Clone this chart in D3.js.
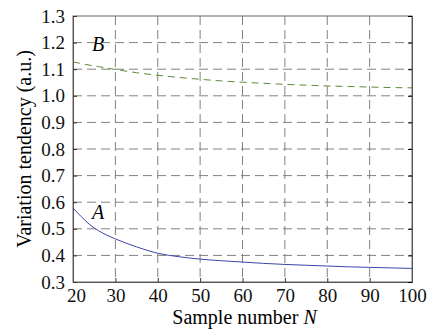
<!DOCTYPE html>
<html><head><meta charset="utf-8">
<script src="https://cdn.jsdelivr.net/npm/d3@7"></script>
<style>body{margin:0;background:#fff}svg{display:block}</style>
</head><body>
<script>
const xTicks = [20,30,40,50,60,70,80,90,100];
const yTicks = [0.3,0.4,0.5,0.6,0.7,0.8,0.9,1.0,1.1,1.2,1.3];
const sampleN = [20,22,24,26,28,30,35,40,45,50,55,60,65,70,75,80,85,90,95,100];
const seriesA = [0.578,0.545,0.515,0.493,0.476,0.462,0.432,0.408,0.395,0.386,0.380,0.375,0.370,0.366,0.363,0.360,0.357,0.355,0.353,0.351];
const seriesB = [1.128,1.121,1.115,1.110,1.104,1.099,1.087,1.077,1.069,1.062,1.056,1.051,1.047,1.043,1.040,1.037,1.035,1.033,1.031,1.030];

const W=433,H=331, L=73,R=412,T=16,B=282;
const FONT='"Liberation Serif"';
const svg=d3.select("body").append("svg").attr("width",W).attr("height",H);
const x=d3.scaleLinear().domain([20,100]).range([L,R]);
const y=d3.scaleLinear().domain([0.3,1.3]).range([B,T]);

// grid
svg.append("g").selectAll("line").data(xTicks.slice(1,-1)).join("line")
  .attr("x1",d=>x(d)).attr("x2",d=>x(d)).attr("y1",T).attr("y2",B)
  .attr("stroke","#85807f").attr("stroke-width",1).attr("stroke-dasharray","9,5");
svg.append("g").selectAll("line").data(yTicks.slice(1,-1)).join("line")
  .attr("x1",L).attr("x2",R).attr("y1",d=>y(d)).attr("y2",d=>y(d))
  .attr("stroke","#85807f").attr("stroke-width",1).attr("stroke-dasharray","9,5");

// box
svg.append("rect").attr("x",L).attr("y",T).attr("width",R-L).attr("height",B-T)
  .attr("fill","none").attr("stroke","#6e6664").attr("stroke-width",1);

// axes
const xa=svg.append("g").attr("transform",`translate(0,${B})`)
  .call(d3.axisBottom(x).tickValues(xTicks).tickSize(-4).tickPadding(7).tickFormat(d3.format("d")));
const ya=svg.append("g").attr("transform",`translate(${L},0)`)
  .call(d3.axisLeft(y).tickValues(yTicks).tickSize(-4).tickPadding(8).tickFormat(d3.format(".1f")));
svg.append("g").attr("transform",`translate(${R},0)`)
  .call(d3.axisRight(y).tickValues(yTicks).tickSize(-4).tickFormat(""));
[xa,ya].forEach(g=>{
  g.selectAll(".tick line").attr("stroke","#333");
  g.selectAll("text").style("font-family",FONT).style("font-size","19px").attr("fill","#111");
});
xa.selectAll("text").filter(d=>d===20).attr("dx",3);
svg.selectAll(".domain").attr("stroke","#555");

// lines
const line=d3.line().x((d,i)=>x(sampleN[i])).y(d=>y(d)).curve(d3.curveMonotoneX);
svg.append("path").datum(seriesA).attr("d",line).attr("fill","none")
  .attr("stroke","#3d46a8").attr("stroke-width",1);
svg.append("path").datum(seriesB).attr("d",line).attr("fill","none")
  .attr("stroke","#5f8a3a").attr("stroke-width",1).attr("stroke-dasharray","7,5");

// labels
svg.append("text").attr("x",x(24.5)).attr("y",y(1.17)).text("B")
  .style("font-family",FONT).style("font-style","italic").style("font-size","20px");
svg.append("text").attr("x",x(24.5)).attr("y",y(0.535)).text("A")
  .style("font-family",FONT).style("font-style","italic").style("font-size","20px");

svg.append("text").attr("x",(L+R)/2+2).attr("y",324).attr("text-anchor","middle")
  .style("font-family",FONT).style("font-size","20px")
  .html("Sample number <tspan style='font-style:italic'>N</tspan>");
svg.append("text").attr("transform",`translate(31,${(T+B)/2}) rotate(-90)`)
  .attr("text-anchor","middle").style("font-family",FONT).style("font-size","20px")
  .text("Variation tendency (a.u.)");
</script>
</body></html>
